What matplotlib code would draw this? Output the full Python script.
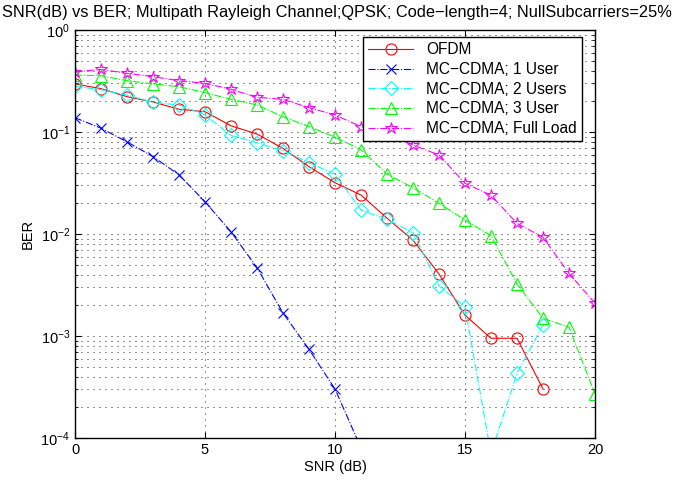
import matplotlib
matplotlib.use('Agg')
import matplotlib.pyplot as plt
import numpy as np

# SNR axis (dB)
snr = np.arange(0, 21)

# BER values
ber_ofdm = [0.296, 0.266, 0.222, 0.197, 0.167, 0.158, 0.115, 0.0955, 0.069,
            0.0457, 0.0318, 0.0241, 0.0143, 0.0087, 0.00405, 0.0016, 0.00095,
            0.00095, 0.000302]
ber_1user = [0.138, 0.109, 0.080, 0.0573, 0.038, 0.0207, 0.0105, 0.00467,
             0.00168, 0.00074, 0.000302, 0.00008]
ber_2users = [0.28, 0.26, 0.23, 0.195, 0.184, 0.147, 0.0925, 0.0785, 0.0656,
              0.050, 0.0385, 0.0172, 0.0139, 0.0103, 0.0031, 0.00193, 0.00007,
              0.00043, 0.00128]
ber_3users = [0.362, 0.356, 0.318, 0.296, 0.278, 0.243, 0.209, 0.184, 0.141,
              0.113, 0.089, 0.067, 0.0386, 0.0284, 0.020, 0.0137, 0.0096,
              0.00324, 0.00149, 0.00122, 0.00027]
ber_full = [0.39, 0.41, 0.376, 0.349, 0.318, 0.30, 0.262, 0.219, 0.209, 0.173,
            0.147, 0.113, 0.095, 0.0746, 0.0595, 0.0314, 0.024, 0.0127, 0.0093,
            0.0041, 0.0021]

labels = ['OFDM', 'MC\u2212CDMA; 1 User', 'MC\u2212CDMA; 2 Users',
          'MC\u2212CDMA; 3 User', 'MC\u2212CDMA; Full Load']
title = ('SNR(dB) vs BER; Multipath Rayleigh Channel;QPSK; Code\u2212length=4; '
         'NullSubcarriers=25%')

plt.rcParams.update({'font.family': ['Liberation Sans', 'DejaVu Sans'],
                     'font.size': 10.5,
                     'xtick.direction': 'in',
                     'ytick.direction': 'in',
                     'xtick.top': True,
                     'ytick.right': True,
                     'axes.linewidth': 1.0})

fig = plt.figure(figsize=(6.8, 4.86), dpi=100)
ax = fig.add_axes([0.1103, 0.0988, 0.7647, 0.8395])

ms = 8
ax.semilogy(snr[:len(ber_ofdm)], ber_ofdm, color='red', linestyle='-', lw=0.8,
            marker='o', ms=ms, mfc='none', mew=0.8, label=labels[0])
ax.semilogy(snr[:len(ber_1user)], ber_1user, color='blue', linestyle='-.', lw=0.8,
            marker='x', ms=7, mew=0.8, label=labels[1])
ax.semilogy(snr[:len(ber_2users)], ber_2users, color='cyan', linestyle='-.', lw=0.8,
            marker='D', ms=7, mfc='none', mew=0.8, label=labels[2])
ax.semilogy(snr[:len(ber_3users)], ber_3users, color='#00ff00', linestyle='-.', lw=0.8,
            marker='^', ms=ms + 1, mfc='none', mew=0.8, label=labels[3])
ax.semilogy(snr[:len(ber_full)], ber_full, color='magenta', linestyle='-.', lw=0.8,
            marker='*', ms=ms + 1, mfc='none', mew=0.8, label=labels[4])

ax.set_xlim(0, 20)
ax.set_ylim(1e-4, 1)
ax.set_xticks([0, 5, 10, 15, 20])
grid_ls = (0, (1.2, 6))
ax.grid(True, which='major', linestyle=grid_ls, color='black', lw=0.6)
ax.grid(True, which='minor', axis='y', linestyle=grid_ls, color='black', lw=0.6)
ax.tick_params(which='both', length=4)
ax.tick_params(which='minor', length=2)

ax.set_xlabel('SNR (dB)', labelpad=2)
ax.set_ylabel('BER')
fig.text(2 / 680, 1 - 13 / 486, title, fontsize=11.8, ha='left', va='center')

leg = ax.legend(loc='upper right', fancybox=False, edgecolor='black',
                framealpha=1, borderaxespad=0.0, bbox_to_anchor=(0.975, 0.983),
                handlelength=2.9, labelspacing=0.3, fontsize=11.2,
                borderpad=0.35)
leg.get_frame().set_linewidth(1.0)

fig.savefig('out.png', dpi=100)
